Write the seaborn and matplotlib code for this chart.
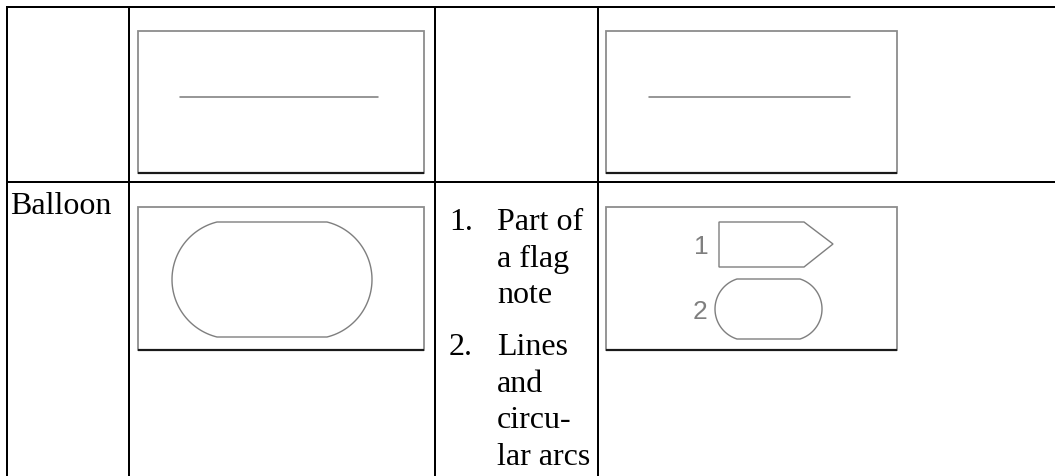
import numpy as np
import pandas as pd
import matplotlib
matplotlib.use("Agg")
import matplotlib.pyplot as plt
from matplotlib.patches import Rectangle, Polygon
import seaborn as sns

# ---- content ----
row_labels = ["", "Balloon"]
list_numbers = ["1.", "2."]
list_lines = [["Part of", "a flag", "note"], ["Lines", "and", "circu-", "lar arcs"]]
shape_labels = ["1", "2"]

sns.set_theme(style="white")
plt.rcParams['font.family'] = ['Liberation Serif', 'DejaVu Serif']

W, H = 1055, 477
fig = plt.figure(figsize=(W / 100, H / 100), dpi=100)
ax = fig.add_axes([0, 0, 1, 1])
ax.set_xlim(0, W)
ax.set_ylim(H, 0)
ax.axis("off")

PX = 0.72  # points per pixel at 100 dpi
black = "#000000"
gray = "#7f7f7f"

# ---- table grid ----
top_y, sep_y = 7.5, 183
vx = [7, 129, 435, 598]
ax.plot([vx[0], W], [top_y, top_y], color=black, lw=2 * PX, solid_capstyle="butt")
ax.plot([vx[0], W], [sep_y, sep_y], color=black, lw=2 * PX, solid_capstyle="butt")
for x in vx:
    ax.plot([x, x], [top_y - 1, H], color=black, lw=2 * PX, solid_capstyle="butt")

# ---- picture frames ----
def frame(x0, y0, x1, y1):
    ax.add_patch(Rectangle((x0, y0), x1 - x0, y1 - y0, fill=False,
                           edgecolor="#8c8c8c", lw=1.8 * PX))
    ax.plot([x0, x1], [y1, y1], color="#1a1a1a", lw=2.2 * PX, solid_capstyle="butt")

frame(138, 32, 424, 174)
frame(606, 32, 897, 174)
frame(138, 208, 424, 351)
frame(606, 208, 897, 351)

# horizontal lines in first row frames
line_df = pd.DataFrame({"x": [180, 378, 649, 850], "y": [98, 98, 98, 98],
                        "g": ["a", "a", "b", "b"]})
sns.lineplot(data=line_df, x="x", y="y", units="g", estimator=None, sort=False,
             color=gray, lw=1.6 * PX, ax=ax, legend=False)
ax.set_xlim(0, W)
ax.set_ylim(H, 0)
ax.axis("off")

# stadium built from lines and circular arcs
def stadium(xl, xr, yt, yb, sag):
    cy = (yt + yb) / 2
    hh = (yb - yt) / 2
    r = hh ** 2 / (2 * sag) + sag / 2
    th = np.arcsin(hh / r)
    cxl = xl + r
    cxr = xr - r
    a = np.linspace(np.pi - th, np.pi + th, 60)
    left = np.c_[cxl + r * np.cos(a), cy + r * np.sin(a)]
    b = np.linspace(-th, th, 60)
    right = np.c_[cxr + r * np.cos(b), cy + r * np.sin(b)]
    pts = np.vstack([left[::-1], right[::-1]])
    ax.add_patch(Polygon(pts, closed=True, fill=False, edgecolor=gray, lw=1.4 * PX))

stadium(172, 372, 223, 338, 45)
stadium(715, 822, 280, 340, 22)

# flag note shape
flag = [(719, 223), (804, 223), (833, 245), (804, 268), (719, 268)]
ax.add_patch(Polygon(flag, closed=True, fill=False, edgecolor=gray, lw=1.4 * PX))

sans = ['Liberation Sans', 'DejaVu Sans']
ax.text(701, 247, shape_labels[0], color=gray, fontsize=19, family=sans,
        ha="center", va="center")
ax.text(700, 312, shape_labels[1], color=gray, fontsize=19, family=sans,
        ha="center", va="center")

# ---- text ----
fs = 23
ax.text(10, 214, row_labels[1], fontsize=fs, color=black, va="baseline", ha="left")

baselines = [[230, 267, 303], [355, 392, 428, 465]]
for num, lines, bls in zip(list_numbers, list_lines, baselines):
    ax.text(449, bls[0], num, fontsize=fs, color=black, va="baseline", ha="left")
    for t, b in zip(lines, bls):
        ax.text(497, b, t, fontsize=fs, color=black, va="baseline", ha="left")

fig.savefig("out.png", dpi=100, facecolor="white")
